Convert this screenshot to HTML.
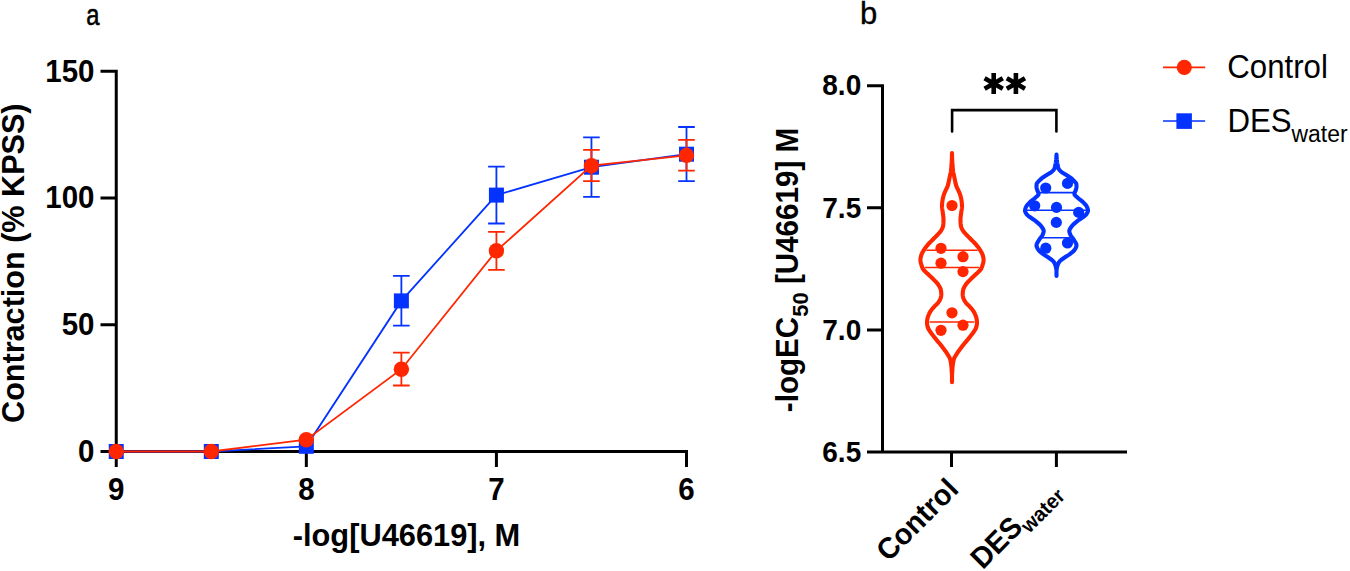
<!DOCTYPE html>
<html><head><meta charset="utf-8"><style>html,body{margin:0;padding:0;background:#fff;width:1350px;height:571px;overflow:hidden}svg{display:block}</style></head><body>
<svg width="1350" height="571" viewBox="0 0 1350 571">
<text transform="translate(86.30,24.50) scale(0.79,1)" font-family="'Liberation Sans', sans-serif" font-size="30" stroke="#000" stroke-width="0.6">a</text>
<text transform="translate(860.00,23.80)" font-family="'Liberation Sans', sans-serif" font-size="31" stroke="#000" stroke-width="0.35">b</text>
<path d="M100.5,71.2 H116.25 V451.5 M100.5,451.5 H688.0 M100.5,197.97 H116.25 M100.5,324.73 H116.25 M116.25,451.5 V467 M306.33,451.5 V467 M496.42,451.5 V467 M686.50,451.5 V467" fill="none" stroke="#000" stroke-width="3"/>
<text transform="translate(94.50,81.70) scale(1.0,1.04)" font-family="'Liberation Sans', sans-serif" font-weight="bold" font-size="29.5" text-anchor="end">150</text>
<text transform="translate(94.50,208.47) scale(1.0,1.04)" font-family="'Liberation Sans', sans-serif" font-weight="bold" font-size="29.5" text-anchor="end">100</text>
<text transform="translate(94.50,335.23) scale(1.0,1.04)" font-family="'Liberation Sans', sans-serif" font-weight="bold" font-size="29.5" text-anchor="end">50</text>
<text transform="translate(94.50,462.00) scale(1.0,1.04)" font-family="'Liberation Sans', sans-serif" font-weight="bold" font-size="29.5" text-anchor="end">0</text>
<text transform="translate(116.25,500.00) scale(1.0,1.04)" font-family="'Liberation Sans', sans-serif" font-weight="bold" font-size="29.5" text-anchor="middle">9</text>
<text transform="translate(306.33,500.00) scale(1.0,1.04)" font-family="'Liberation Sans', sans-serif" font-weight="bold" font-size="29.5" text-anchor="middle">8</text>
<text transform="translate(496.42,500.00) scale(1.0,1.04)" font-family="'Liberation Sans', sans-serif" font-weight="bold" font-size="29.5" text-anchor="middle">7</text>
<text transform="translate(686.50,500.00) scale(1.0,1.04)" font-family="'Liberation Sans', sans-serif" font-weight="bold" font-size="29.5" text-anchor="middle">6</text>
<text transform="translate(406.50,546.30) scale(1.0,1.04)" font-family="'Liberation Sans', sans-serif" font-weight="bold" font-size="30.8" text-anchor="middle">-log[U46619], M</text>
<text transform="translate(24.20,263.20) rotate(-90) scale(1.0,1.04)" font-family="'Liberation Sans', sans-serif" font-weight="bold" font-size="30.6" text-anchor="middle">Contraction (% KPSS)</text>
<path d="M401.38,275.9 V325.6 M393.07,275.9 h16.6 M393.07,325.6 h16.6 M496.42,166.7 V223.5 M488.12,166.7 h16.6 M488.12,223.5 h16.6 M591.46,137.3 V196.9 M583.16,137.3 h16.6 M583.16,196.9 h16.6 M686.50,127 V181.2 M678.20,127 h16.6 M678.20,181.2 h16.6 " stroke="#0433FF" stroke-width="1.8" fill="none"/>
<polyline points="116.25,451.5 211.29,451.5 306.33,446.3 401.38,300.9 496.42,195.1 591.46,167.2 686.50,154.2" stroke="#0433FF" stroke-width="1.8" fill="none"/>
<rect x="108.75" y="444.00" width="15.0" height="15.0" fill="#0433FF"/>
<rect x="203.79" y="444.00" width="15.0" height="15.0" fill="#0433FF"/>
<rect x="298.83" y="438.80" width="15.0" height="15.0" fill="#0433FF"/>
<rect x="393.88" y="293.40" width="15.0" height="15.0" fill="#0433FF"/>
<rect x="488.92" y="187.60" width="15.0" height="15.0" fill="#0433FF"/>
<rect x="583.96" y="159.70" width="15.0" height="15.0" fill="#0433FF"/>
<rect x="679.00" y="146.70" width="15.0" height="15.0" fill="#0433FF"/>
<path d="M401.38,352.7 V385.5 M393.07,352.7 h16.6 M393.07,385.5 h16.6 M496.42,231.9 V269.9 M488.12,231.9 h16.6 M488.12,269.9 h16.6 M591.46,149.9 V181.1 M583.16,149.9 h16.6 M583.16,181.1 h16.6 M686.50,139.9 V170.6 M678.20,139.9 h16.6 M678.20,170.6 h16.6 " stroke="#FF2600" stroke-width="1.8" fill="none"/>
<polyline points="116.25,451.5 211.29,451.5 306.33,439.7 401.38,369.2 496.42,250.8 591.46,165.7 686.50,155.4" stroke="#FF2600" stroke-width="1.8" fill="none"/>
<circle cx="116.25" cy="451.5" r="7.7" fill="#FF2600"/>
<circle cx="211.29" cy="451.5" r="7.7" fill="#FF2600"/>
<circle cx="306.33" cy="439.7" r="7.7" fill="#FF2600"/>
<circle cx="401.38" cy="369.2" r="7.7" fill="#FF2600"/>
<circle cx="496.42" cy="250.8" r="7.7" fill="#FF2600"/>
<circle cx="591.46" cy="165.7" r="7.7" fill="#FF2600"/>
<circle cx="686.50" cy="155.4" r="7.7" fill="#FF2600"/>
<path d="M867,85.7 H882.5 V452 M867,452 H1127 M867,207.80 H882.5 M867,329.90 H882.5 M951.5,452 V467 M1056.4,452 V467" fill="none" stroke="#000" stroke-width="3"/>
<text transform="translate(861.20,95.40) scale(1.0,1.04)" font-family="'Liberation Sans', sans-serif" font-weight="bold" font-size="28" text-anchor="end">8.0</text>
<text transform="translate(861.20,217.50) scale(1.0,1.04)" font-family="'Liberation Sans', sans-serif" font-weight="bold" font-size="28" text-anchor="end">7.5</text>
<text transform="translate(861.20,339.60) scale(1.0,1.04)" font-family="'Liberation Sans', sans-serif" font-weight="bold" font-size="28" text-anchor="end">7.0</text>
<text transform="translate(861.20,461.70) scale(1.0,1.04)" font-family="'Liberation Sans', sans-serif" font-weight="bold" font-size="28" text-anchor="end">6.5</text>
<text transform="translate(797.50,270.00) rotate(-90) scale(1.0,1.04)" font-family="'Liberation Sans', sans-serif" font-weight="bold" font-size="29.6" text-anchor="middle">-logEC<tspan font-size="22" dy="9.8">50</tspan><tspan dy="-9.8"> [U46619] M</tspan></text>
<text transform="translate(960.00,491.00) rotate(-45) scale(1.0,1.04)" font-family="'Liberation Sans', sans-serif" font-weight="bold" font-size="28.5" text-anchor="end">Control</text>
<text transform="translate(1061.00,492.00) rotate(-45) scale(1.0,1.04)" font-family="'Liberation Sans', sans-serif" font-weight="bold" font-size="28.5" text-anchor="end">DES<tspan font-size="20" dy="7">water</tspan></text>
<path d="M952.1,131.4 V110.1 H1056.4 V131.4" fill="none" stroke="#000" stroke-width="2.6" stroke-linecap="round" stroke-linejoin="miter"/>
<path d="M993.70,72.90 L993.70,93.90 M984.61,78.15 L1002.79,88.65 M1002.79,78.15 L984.61,88.65 " stroke="#000" stroke-width="4.6" fill="none"/>
<path d="M1015.90,72.90 L1015.90,93.90 M1006.81,78.15 L1024.99,88.65 M1024.99,78.15 L1006.81,88.65 " stroke="#000" stroke-width="4.6" fill="none"/>
<path d="M926.28,250.3 H977.72 M924.86,267.5 H979.14 M929.63,322 H974.37 " stroke="#FF2600" stroke-width="1.6" fill="none"/>
<circle cx="952" cy="205.5" r="5.6" fill="#FF2600"/>
<circle cx="941" cy="248.3" r="5.6" fill="#FF2600"/>
<circle cx="963" cy="256.7" r="5.6" fill="#FF2600"/>
<circle cx="941" cy="263.2" r="5.6" fill="#FF2600"/>
<circle cx="963" cy="271.6" r="5.6" fill="#FF2600"/>
<circle cx="952" cy="312.8" r="5.6" fill="#FF2600"/>
<circle cx="963" cy="325.2" r="5.6" fill="#FF2600"/>
<circle cx="941" cy="330.3" r="5.6" fill="#FF2600"/>
<path d="M952.00,153.00 L952.00,153.00 L952.00,153.00 L951.98,154.40 L951.95,155.81 L951.91,157.21 L951.85,158.61 L951.80,160.01 L951.73,161.42 L951.64,162.82 L951.54,164.22 L951.43,165.62 L951.32,167.03 L951.20,168.43 L951.07,169.83 L950.91,171.23 L950.68,172.64 L950.34,174.04 L950.01,175.44 L949.72,176.84 L949.45,178.25 L949.17,179.65 L948.88,181.05 L948.60,182.45 L948.30,183.86 L947.93,185.26 L947.45,186.66 L946.79,188.06 L946.12,189.47 L945.44,190.87 L944.77,192.27 L944.20,193.67 L943.73,195.08 L943.33,196.48 L942.99,197.88 L942.69,199.28 L942.45,200.69 L942.29,202.09 L942.15,203.49 L942.05,204.89 L942.00,206.30 L942.06,207.70 L942.23,209.10 L942.47,210.50 L942.70,211.91 L942.87,213.31 L943.06,214.71 L943.24,216.11 L943.40,217.52 L943.49,218.92 L943.49,220.32 L943.45,221.72 L943.39,223.13 L943.29,224.53 L943.11,225.93 L942.73,227.33 L942.12,228.74 L941.39,230.14 L940.44,231.54 L939.27,232.94 L937.94,234.35 L936.61,235.75 L935.25,237.15 L933.85,238.55 L932.44,239.96 L931.02,241.36 L929.63,242.76 L928.33,244.16 L927.11,245.57 L925.95,246.97 L924.89,248.37 L923.99,249.77 L923.18,251.18 L922.39,252.58 L921.69,253.98 L921.20,255.38 L920.84,256.79 L920.58,258.19 L920.41,259.59 L920.46,260.99 L920.71,262.40 L921.07,263.80 L921.46,265.20 L921.90,266.60 L922.49,268.01 L923.26,269.41 L924.47,270.81 L925.91,272.21 L927.37,273.62 L928.93,275.02 L930.44,276.42 L931.90,277.82 L933.33,279.23 L934.75,280.63 L936.15,282.03 L937.34,283.43 L938.38,284.84 L939.26,286.24 L940.01,287.64 L940.64,289.04 L940.97,290.45 L941.17,291.85 L941.28,293.25 L941.28,294.65 L941.14,296.06 L940.90,297.46 L940.36,298.86 L939.67,300.26 L938.85,301.67 L937.85,303.07 L936.51,304.47 L935.01,305.87 L933.69,307.28 L932.44,308.68 L931.34,310.08 L930.36,311.48 L929.55,312.89 L928.93,314.29 L928.35,315.69 L927.84,317.09 L927.45,318.50 L927.21,319.90 L927.08,321.30 L927.00,322.70 L927.07,324.11 L927.31,325.51 L927.67,326.91 L928.11,328.31 L928.84,329.72 L929.79,331.12 L930.76,332.52 L931.79,333.92 L932.88,335.33 L933.97,336.73 L935.08,338.13 L936.22,339.53 L937.38,340.94 L938.58,342.34 L939.77,343.74 L940.92,345.14 L942.02,346.55 L943.09,347.95 L944.13,349.35 L945.15,350.75 L946.15,352.16 L947.10,353.56 L947.97,354.96 L948.84,356.36 L949.59,357.77 L950.11,359.17 L950.49,360.57 L950.78,361.97 L951.01,363.38 L951.19,364.78 L951.34,366.18 L951.47,367.58 L951.58,368.99 L951.67,370.39 L951.76,371.79 L951.85,373.19 L951.93,374.60 L952.00,376.00 L952.00,382.30 M952.00,376.00 L952.00,376.00 L952.07,374.60 L952.15,373.19 L952.24,371.79 L952.33,370.39 L952.42,368.99 L952.53,367.58 L952.66,366.18 L952.81,364.78 L952.99,363.38 L953.22,361.97 L953.51,360.57 L953.89,359.17 L954.41,357.77 L955.16,356.36 L956.03,354.96 L956.90,353.56 L957.85,352.16 L958.85,350.75 L959.87,349.35 L960.91,347.95 L961.98,346.55 L963.08,345.14 L964.23,343.74 L965.42,342.34 L966.62,340.94 L967.78,339.53 L968.92,338.13 L970.03,336.73 L971.12,335.33 L972.21,333.92 L973.24,332.52 L974.21,331.12 L975.16,329.72 L975.89,328.31 L976.33,326.91 L976.69,325.51 L976.93,324.11 L977.00,322.70 L976.92,321.30 L976.79,319.90 L976.55,318.50 L976.16,317.09 L975.65,315.69 L975.07,314.29 L974.45,312.89 L973.64,311.48 L972.66,310.08 L971.56,308.68 L970.31,307.28 L968.99,305.87 L967.49,304.47 L966.15,303.07 L965.15,301.67 L964.33,300.26 L963.64,298.86 L963.10,297.46 L962.86,296.06 L962.72,294.65 L962.72,293.25 L962.83,291.85 L963.03,290.45 L963.36,289.04 L963.99,287.64 L964.74,286.24 L965.62,284.84 L966.66,283.43 L967.85,282.03 L969.25,280.63 L970.67,279.23 L972.10,277.82 L973.56,276.42 L975.07,275.02 L976.63,273.62 L978.09,272.21 L979.53,270.81 L980.74,269.41 L981.51,268.01 L982.10,266.60 L982.54,265.20 L982.93,263.80 L983.29,262.40 L983.54,260.99 L983.59,259.59 L983.42,258.19 L983.16,256.79 L982.80,255.38 L982.31,253.98 L981.61,252.58 L980.82,251.18 L980.01,249.77 L979.11,248.37 L978.05,246.97 L976.89,245.57 L975.67,244.16 L974.37,242.76 L972.98,241.36 L971.56,239.96 L970.15,238.55 L968.75,237.15 L967.39,235.75 L966.06,234.35 L964.73,232.94 L963.56,231.54 L962.61,230.14 L961.88,228.74 L961.27,227.33 L960.89,225.93 L960.71,224.53 L960.61,223.13 L960.55,221.72 L960.51,220.32 L960.51,218.92 L960.60,217.52 L960.76,216.11 L960.94,214.71 L961.13,213.31 L961.30,211.91 L961.53,210.50 L961.77,209.10 L961.94,207.70 L962.00,206.30 L961.95,204.89 L961.85,203.49 L961.71,202.09 L961.55,200.69 L961.31,199.28 L961.01,197.88 L960.67,196.48 L960.27,195.08 L959.80,193.67 L959.23,192.27 L958.56,190.87 L957.88,189.47 L957.21,188.06 L956.55,186.66 L956.07,185.26 L955.70,183.86 L955.40,182.45 L955.12,181.05 L954.83,179.65 L954.55,178.25 L954.28,176.84 L953.99,175.44 L953.66,174.04 L953.32,172.64 L953.09,171.23 L952.93,169.83 L952.80,168.43 L952.68,167.03 L952.57,165.62 L952.46,164.22 L952.36,162.82 L952.27,161.42 L952.20,160.01 L952.15,158.61 L952.09,157.21 L952.05,155.81 L952.02,154.40 L952.00,153.00" fill="none" stroke="#FF2600" stroke-width="4.1" stroke-linecap="round" stroke-linejoin="round"/>
<path d="M1039.89,192.6 H1073.11 M1026.61,210.2 H1086.39 M1042.27,237.7 H1070.73 " stroke="#0433FF" stroke-width="1.6" fill="none"/>
<circle cx="1045.7" cy="188" r="5.6" fill="#0433FF"/>
<circle cx="1067.5" cy="183.4" r="5.6" fill="#0433FF"/>
<circle cx="1034.7" cy="205.8" r="5.6" fill="#0433FF"/>
<circle cx="1056.5" cy="207.4" r="5.6" fill="#0433FF"/>
<circle cx="1078.7" cy="212.4" r="5.6" fill="#0433FF"/>
<circle cx="1056.3" cy="222.4" r="5.6" fill="#0433FF"/>
<circle cx="1067.5" cy="243" r="5.6" fill="#0433FF"/>
<circle cx="1045.8" cy="248.2" r="5.6" fill="#0433FF"/>
<path d="M1056.50,154.50 L1056.50,154.50 L1056.50,154.50 L1056.47,155.23 L1056.43,155.97 L1056.39,156.70 L1056.34,157.43 L1056.29,158.16 L1056.23,158.90 L1056.17,159.63 L1056.09,160.36 L1056.01,161.09 L1055.92,161.83 L1055.82,162.56 L1055.69,163.29 L1055.54,164.03 L1055.38,164.76 L1055.21,165.49 L1055.05,166.22 L1054.91,166.96 L1054.74,167.69 L1054.53,168.42 L1054.18,169.15 L1053.65,169.89 L1052.98,170.62 L1052.22,171.35 L1051.40,172.08 L1050.39,172.82 L1049.17,173.55 L1047.89,174.28 L1046.68,175.02 L1045.52,175.75 L1044.37,176.48 L1043.27,177.21 L1042.27,177.95 L1041.36,178.68 L1040.50,179.41 L1039.71,180.14 L1039.01,180.88 L1038.34,181.61 L1037.65,182.34 L1037.06,183.08 L1036.68,183.81 L1036.58,184.54 L1036.54,185.27 L1036.51,186.01 L1036.50,186.74 L1036.53,187.47 L1036.67,188.20 L1036.88,188.94 L1037.10,189.67 L1037.33,190.40 L1037.64,191.14 L1037.98,191.87 L1038.29,192.60 L1038.52,193.33 L1038.60,194.07 L1038.36,194.80 L1037.79,195.53 L1037.01,196.26 L1036.14,197.00 L1035.29,197.73 L1034.50,198.46 L1033.63,199.19 L1032.69,199.93 L1031.74,200.66 L1030.82,201.39 L1029.98,202.13 L1029.25,202.86 L1028.55,203.59 L1027.87,204.32 L1027.24,205.06 L1026.68,205.79 L1026.23,206.52 L1025.89,207.25 L1025.60,207.99 L1025.33,208.72 L1025.12,209.45 L1025.01,210.19 L1025.03,210.92 L1025.23,211.65 L1025.55,212.38 L1025.96,213.12 L1026.41,213.85 L1026.92,214.58 L1027.62,215.31 L1028.48,216.05 L1029.46,216.78 L1030.52,217.51 L1031.62,218.25 L1032.73,218.98 L1033.80,219.71 L1034.81,220.44 L1035.71,221.18 L1036.60,221.91 L1037.50,222.64 L1038.39,223.37 L1039.23,224.11 L1040.00,224.84 L1040.67,225.57 L1041.22,226.31 L1041.77,227.04 L1042.31,227.77 L1042.80,228.50 L1043.22,229.24 L1043.53,229.97 L1043.68,230.70 L1043.68,231.43 L1043.55,232.17 L1043.34,232.90 L1043.07,233.63 L1042.77,234.36 L1042.46,235.10 L1042.07,235.83 L1041.57,236.56 L1041.00,237.30 L1040.41,238.03 L1039.83,238.76 L1039.31,239.49 L1038.87,240.23 L1038.44,240.96 L1037.99,241.69 L1037.55,242.42 L1037.16,243.16 L1036.83,243.89 L1036.61,244.62 L1036.50,245.36 L1036.55,246.09 L1036.74,246.82 L1037.04,247.55 L1037.43,248.29 L1037.87,249.02 L1038.34,249.75 L1038.86,250.48 L1039.54,251.22 L1040.37,251.95 L1041.28,252.68 L1042.24,253.42 L1043.19,254.15 L1044.22,254.88 L1045.33,255.61 L1046.49,256.35 L1047.63,257.08 L1048.73,257.81 L1049.79,258.54 L1050.87,259.28 L1051.89,260.01 L1052.75,260.74 L1053.40,261.47 L1053.95,262.21 L1054.41,262.94 L1054.78,263.67 L1055.09,264.41 L1055.37,265.14 L1055.61,265.87 L1055.81,266.60 L1055.97,267.34 L1056.12,268.07 L1056.25,268.80 L1056.36,269.53 L1056.45,270.27 L1056.50,271.00 L1056.50,275.90 M1056.50,271.00 L1056.50,271.00 L1056.55,270.27 L1056.64,269.53 L1056.75,268.80 L1056.88,268.07 L1057.03,267.34 L1057.19,266.60 L1057.39,265.87 L1057.63,265.14 L1057.91,264.41 L1058.22,263.67 L1058.59,262.94 L1059.05,262.21 L1059.60,261.47 L1060.25,260.74 L1061.11,260.01 L1062.13,259.28 L1063.21,258.54 L1064.27,257.81 L1065.37,257.08 L1066.51,256.35 L1067.67,255.61 L1068.78,254.88 L1069.81,254.15 L1070.76,253.42 L1071.72,252.68 L1072.63,251.95 L1073.46,251.22 L1074.14,250.48 L1074.66,249.75 L1075.13,249.02 L1075.57,248.29 L1075.96,247.55 L1076.26,246.82 L1076.45,246.09 L1076.50,245.36 L1076.39,244.62 L1076.17,243.89 L1075.84,243.16 L1075.45,242.42 L1075.01,241.69 L1074.56,240.96 L1074.13,240.23 L1073.69,239.49 L1073.17,238.76 L1072.59,238.03 L1072.00,237.30 L1071.43,236.56 L1070.93,235.83 L1070.54,235.10 L1070.23,234.36 L1069.93,233.63 L1069.66,232.90 L1069.45,232.17 L1069.32,231.43 L1069.32,230.70 L1069.47,229.97 L1069.78,229.24 L1070.20,228.50 L1070.69,227.77 L1071.23,227.04 L1071.78,226.31 L1072.33,225.57 L1073.00,224.84 L1073.77,224.11 L1074.61,223.37 L1075.50,222.64 L1076.40,221.91 L1077.29,221.18 L1078.19,220.44 L1079.20,219.71 L1080.27,218.98 L1081.38,218.25 L1082.48,217.51 L1083.54,216.78 L1084.52,216.05 L1085.38,215.31 L1086.08,214.58 L1086.59,213.85 L1087.04,213.12 L1087.45,212.38 L1087.77,211.65 L1087.97,210.92 L1087.99,210.19 L1087.88,209.45 L1087.67,208.72 L1087.40,207.99 L1087.11,207.25 L1086.77,206.52 L1086.32,205.79 L1085.76,205.06 L1085.13,204.32 L1084.45,203.59 L1083.75,202.86 L1083.02,202.13 L1082.18,201.39 L1081.26,200.66 L1080.31,199.93 L1079.37,199.19 L1078.50,198.46 L1077.71,197.73 L1076.86,197.00 L1075.99,196.26 L1075.21,195.53 L1074.64,194.80 L1074.40,194.07 L1074.48,193.33 L1074.71,192.60 L1075.02,191.87 L1075.36,191.14 L1075.67,190.40 L1075.90,189.67 L1076.12,188.94 L1076.33,188.20 L1076.47,187.47 L1076.50,186.74 L1076.49,186.01 L1076.46,185.27 L1076.42,184.54 L1076.32,183.81 L1075.94,183.08 L1075.35,182.34 L1074.66,181.61 L1073.99,180.88 L1073.29,180.14 L1072.50,179.41 L1071.64,178.68 L1070.73,177.95 L1069.73,177.21 L1068.63,176.48 L1067.48,175.75 L1066.32,175.02 L1065.11,174.28 L1063.83,173.55 L1062.61,172.82 L1061.60,172.08 L1060.78,171.35 L1060.02,170.62 L1059.35,169.89 L1058.82,169.15 L1058.47,168.42 L1058.26,167.69 L1058.09,166.96 L1057.95,166.22 L1057.79,165.49 L1057.62,164.76 L1057.46,164.03 L1057.31,163.29 L1057.18,162.56 L1057.08,161.83 L1056.99,161.09 L1056.91,160.36 L1056.83,159.63 L1056.77,158.90 L1056.71,158.16 L1056.66,157.43 L1056.61,156.70 L1056.57,155.97 L1056.53,155.23 L1056.50,154.50" fill="none" stroke="#0433FF" stroke-width="4.1" stroke-linecap="round" stroke-linejoin="round"/>
<path d="M1163,67.4 H1205.2" stroke="#FF2600" stroke-width="1.6"/>
<circle cx="1184.3" cy="67.3" r="7.6" fill="#FF2600"/>
<path d="M1163,121 H1205.1" stroke="#0433FF" stroke-width="1.6"/>
<rect x="1176.4" y="113.3" width="15.5" height="15.6" fill="#0433FF"/>
<text transform="translate(1227.30,77.60) scale(1.0,1.04)" font-family="'Liberation Sans', sans-serif" font-size="31.2">Control</text>
<text transform="translate(1227.40,131.60) scale(1.0,1.04)" font-family="'Liberation Sans', sans-serif" font-size="31.2">DES<tspan font-size="22.9" dy="10.2">water</tspan></text>
</svg>
</body></html>
